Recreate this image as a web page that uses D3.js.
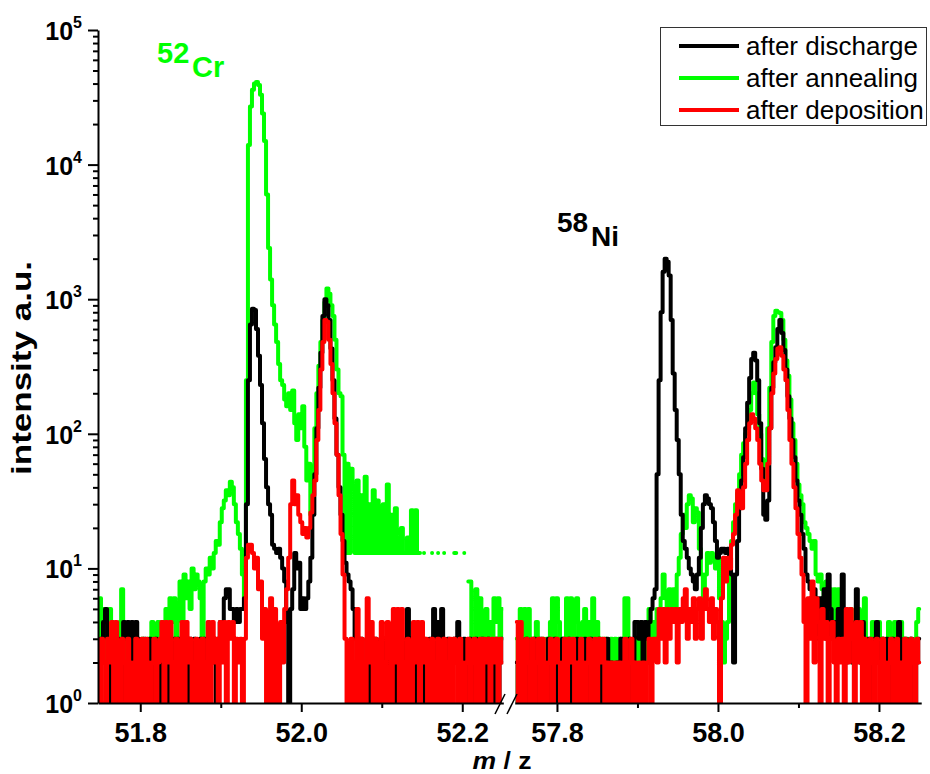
<!DOCTYPE html>
<html>
<head>
<meta charset="utf-8">
<script src="https://cdn.jsdelivr.net/npm/d3@7"></script>
<style>
  body { margin: 0; background: white; }
  text { font-family: "Liberation Sans", Arial, sans-serif; }
</style>
</head>
<body>
<div id="container"></div>
<script>
// colours of the three spectra
let black = "#000000";
let green = "#00ff00";
let red = "#ff0000";

// spectra are sampled every 0.0025 m/z, from 51.75 (left part) and 57.75 (right part)
let step = 0.0025;
let startLeft = 51.75;
let startRight = 57.75;

// left part, 51.75 .. 52.25
let greenLeft = [
  6,2,5,3,1,5,4,2,3,1,
  4,7,3,2,3,1,3,2,3,2,
  1,3,2,1,3,2,4,1,3,4,
  2,4,3,5,1,6,4,6,3,5,
  8,4,9,6,8,5,10,7,9,8,
  6,1,8,10,9,12,10,13,16,15,
  22,28,32,38,35,44,40,30,22,18,
  14,9,6,250,14000,27000,36000,40000,41000,39000,
  33000,24000,15000,6000,2400,1400,900,650,480,330,
  250,230,180,160,200,150,210,120,90,140,
  110,160,80,45,60,25,50,110,200,320,
  480,700,950,1200,1100,900,750,500,300,200,
  190,70,13,60,13,55,40,13,45,13,
  35,13,48,13,30,13,38,13,32,13,
  13,30,13,42,13,25,13,28,13,13,
  20,13,13,17,13,27,13,27,13,13,
  null,13,null,null,null,13,null,null,13,null,
  null,13,null,null,null,null,13,13,null,null,
  null,13,null,8,8,3,1,7,3,6,
  2,3,5,3,4,2,6,4,6,3,
  5
];
let blackLeft = [
  3,2,4,5,3,1,3,2,1,3,
  2,1,4,3,4,1,4,2,4,3,
  1,2,3,1,2,3,1,2,3,2,
  1,3,2,1,3,2,1,3,2,3,
  1,2,3,2,1,3,2,3,1,1,
  3,2,3,1,2,3,2,3,1,3,
  4,4,6,7,7,5,5,4,5,4,
  5,5,6,30,250,650,850,830,600,380,
  230,120,65,40,30,25,15,14,13,14,
  12,10,8,4,1,5,7,13,10,11,
  5,6,5,6,8,12,25,50,110,220,
  400,750,1000,900,700,430,250,130,70,40,
  25,16,11,9,8,7,5,3,2,1,
  3,2,1,2,3,1,2,3,1,2,
  3,2,1,3,2,1,2,3,1,2,
  3,1,2,5,2,3,1,2,3,2,
  1,3,2,1,3,2,5,1,4,1,
  5,1,2,3,1,2,3,2,4,1,
  2,3,1,2,3,1,2,3,2,1,
  3,2,1,3,2,1,2,3,1,2,
  3
];
let redLeft = [
  1,3,2,1,3,2,4,1,4,2,
  1,3,2,1,3,2,1,2,3,1,
  2,3,1,3,2,1,2,3,1,2,
  3,4,1,4,2,4,1,2,3,1,
  2,4,1,4,2,3,1,2,3,1,
  2,3,1,2,4,1,4,2,3,1,
  4,2,4,1,4,3,4,1,3,2,
  3,1,3,12,15,15,13,10,12,7,
  8,3,5,1,4,6,1,5,3,1,
  4,2,5,7,12,30,45,30,35,25,
  22,18,20,17,20,26,35,45,90,150,
  300,480,700,680,500,330,200,120,70,35,
  18,9,3,1,2,3,1,2,5,1,
  3,2,1,6,2,4,1,3,2,1,
  4,2,1,4,3,1,5,2,5,1,
  5,2,1,3,2,1,4,2,4,1,
  4,2,3,1,2,3,1,2,3,1,
  2,3,1,2,3,1,3,2,1,3,
  2,1,2,3,1,2,3,1,2,3,
  1,3,2,3,1,3,2,3,1,3,
  2
];

// right part, 57.75 .. 58.25
let greenRight = [
  3,1,5,2,5,3,5,1,3,2,
  4,2,1,3,2,3,1,4,6,3,
  6,4,2,3,1,6,3,6,2,4,
  6,3,2,4,5,2,4,3,6,3,
  4,1,3,2,3,1,2,3,2,3,
  1,3,2,3,6,6,2,1,2,3,
  1,3,2,3,3,2,5,3,4,3,
  5,4,6,9,6,5,7,4,7,5,
  9,12,18,25,20,30,35,33,22,28,
  26,14,9,5,9,13,11,13,12,10,
  12,6,4,2,3,4,10,16,22,30,
  36,50,70,85,100,110,150,200,240,200,
  140,100,65,45,55,110,220,480,750,820,
  800,790,700,500,350,270,180,120,90,60,
  42,35,30,22,20,18,16,14,16,9,
  8,9,7,5,8,4,7,3,7,4,
  7,3,5,2,4,3,5,2,4,3,
  5,2,4,6,3,2,3,4,2,3,
  4,2,3,2,3,4,3,2,4,3,
  2,4,3,2,3,1,3,2,3,4,
  5
];
let blackRight = [
  2,1,3,2,1,3,2,1,2,3,
  1,2,3,1,2,1,3,2,1,3,
  2,1,2,3,1,2,3,1,2,1,
  3,2,1,2,3,1,2,3,1,2,
  1,3,2,1,2,3,1,2,1,1,
  2,1,3,2,1,2,3,1,2,4,
  4,3,4,2,4,3,4,5,6,7,
  50,250,800,1600,2000,1900,1500,700,280,150,
  90,50,25,16,14,12,10,9,8,7,
  9,12,20,30,35,33,30,28,22,16,
  12,13,14,14,13,14,12,9,2,9,
  16,28,45,67,110,170,260,360,400,350,
  250,120,55,25,23,32,110,220,340,440,
  600,700,560,420,300,190,130,90,67,45,
  32,25,18,14,9,8,7,7,7,6,
  3,6,4,7,3,9,5,3,4,2,
  5,3,9,4,2,3,4,2,3,7,
  3,2,4,3,2,3,1,2,3,4,
  2,1,3,2,3,1,2,3,2,3,
  4,2,1,3,2,1,3,2,1,2,
  3
];
let redRight = [
  4,1,4,2,1,3,2,1,3,1,
  2,3,1,3,2,1,2,3,1,2,
  3,2,1,2,3,1,3,2,3,1,
  2,1,3,2,1,2,3,1,2,3,
  1,3,2,3,1,2,1,2,1,2,
  1,2,1,2,3,1,2,3,1,2,
  1,2,1,2,1,2,3,1,3,3,
  2,5,3,5,2,5,3,5,4,5,
  2,5,4,6,7,3,5,4,6,3,
  5,6,3,5,7,5,4,6,3,5,
  4,1,6,12,8,12,10,15,18,25,
  38,30,28,40,60,90,120,140,130,110,
  90,60,45,38,38,60,110,200,280,360,
  430,440,380,300,250,150,90,60,40,28,
  18,12,9,4,1,6,3,8,2,6,
  4,1,5,3,4,1,3,4,2,1,
  3,2,3,1,5,2,5,3,1,4,
  2,4,1,3,2,1,3,2,1,3,
  2,1,3,2,1,2,3,1,2,3,
  1,2,1,3,2,1,3,2,1,3,
  2
];

let legendNames = ["after discharge", "after annealing", "after deposition"];
let legendColors = [black, green, red];

let xTicksLeft = [51.8, 52.0, 52.2];
let xMinorLeft = [51.9, 52.1];
let xTicksRight = [57.8, 58.0, 58.2];
let xMinorRight = [57.9, 58.1];
let yDecades = [1, 10, 100, 1000, 10000, 100000];
let yExponents = [0, 1, 2, 3, 4, 5];

let viz = d3.select("#container")
  .append("svg")
    .attr("width", 930)
    .attr("height", 774)
    .style("background-color", "white")
;

let pxPerUnit = 805;
let plotTop = 30;
let plotBottom = 703;

let xLeft = d3.scaleLinear()
  .domain([51.7475, 52.251])
  .range([98, 98 + (52.251 - 51.7475) * pxPerUnit]);
let xRight = d3.scaleLinear()
  .domain([57.7475, 58.2525])
  .range([514.7, 514.7 + (58.2525 - 57.7475) * pxPerUnit]);
let y = d3.scaleLog()
  .domain([1, 100000])
  .range([plotBottom, plotTop]);

// clip each half so lines end at the axis break
let defs = viz.append("defs");
defs.append("clipPath").attr("id", "clipLeft")
  .append("rect")
  .attr("x", 96).attr("y", 0)
  .attr("width", xLeft.range()[1] - 96).attr("height", plotBottom);
defs.append("clipPath").attr("id", "clipRight")
  .append("rect")
  .attr("x", xRight.range()[0]).attr("y", 0)
  .attr("width", 930 - xRight.range()[0]).attr("height", plotBottom);

function points(values, start) {
  return values.map((v, i) => ({ mz: start + i * step, v: v }));
}

function drawSeries(values, start, xScale, clipId, color) {
  let line = d3.line()
    .defined(d => d.v != null)
    .curve(d3.curveStep)
    .x(d => xScale(d.mz))
    .y(d => y(d.v));
  viz.append("path")
    .datum(points(values, start))
    .attr("clip-path", "url(#" + clipId + ")")
    .attr("d", line)
    .attr("fill", "none")
    .attr("stroke", color)
    .attr("stroke-width", 4)
    .attr("stroke-linejoin", "round")
    .attr("stroke-linecap", "round");
}

// green first, black over it, red on top
drawSeries(greenLeft, startLeft, xLeft, "clipLeft", green);
drawSeries(greenRight, startRight, xRight, "clipRight", green);
drawSeries(blackLeft, startLeft, xLeft, "clipLeft", black);
drawSeries(blackRight, startRight, xRight, "clipRight", black);
drawSeries(redLeft, startLeft, xLeft, "clipLeft", red);
drawSeries(redRight, startRight, xRight, "clipRight", red);

// y axis
let yMinor = [];
yDecades.slice(0, 5).forEach(d => {
  for (let k = 2; k <= 9; k++) yMinor.push(d * k);
});

viz.append("g")
  .attr("transform", "translate(98,0)")
  .call(d3.axisLeft(y).tickValues(yDecades).tickSize(10).tickSizeOuter(0).tickFormat(""));
viz.append("g")
  .attr("transform", "translate(98,0)")
  .call(d3.axisLeft(y).tickValues(yMinor).tickSize(5).tickSizeOuter(0).tickFormat(""))
  .select(".domain").remove();

yDecades.forEach((d, i) => {
  let t = viz.append("text")
    .attr("x", 82)
    .attr("y", y(d) + 10)
    .attr("text-anchor", "end")
    .attr("font-weight", "bold")
    .attr("font-size", 25);
  t.append("tspan").text("10");
  t.append("tspan").attr("dy", -12).attr("font-size", 16).text(yExponents[i]);
});

// x axes, one for each half
function drawXAxis(scale, major, minor) {
  viz.append("g")
    .attr("transform", "translate(0," + plotBottom + ")")
    .call(d3.axisBottom(scale).tickValues(major).tickSize(9).tickSizeOuter(0)
      .tickPadding(11).tickFormat(d3.format(".1f")))
    .selectAll("text")
      .attr("font-size", 27)
      .attr("font-weight", "bold")
      .attr("fill", "black");
  viz.append("g")
    .attr("transform", "translate(0," + plotBottom + ")")
    .call(d3.axisBottom(scale).tickValues(minor).tickSize(5).tickSizeOuter(0).tickFormat(""))
    .select(".domain").remove();
}
drawXAxis(xLeft, xTicksLeft, xMinorLeft);
drawXAxis(xRight, xTicksRight, xMinorRight);

viz.selectAll(".domain, .tick line")
  .attr("stroke", "black")
  .attr("stroke-width", 2);

// axis break marks
[[495, 714, 505, 694], [507, 714, 517, 694]].forEach(s => {
  viz.append("line")
    .attr("x1", s[0]).attr("y1", s[1])
    .attr("x2", s[2]).attr("y2", s[3])
    .attr("stroke", "black")
    .attr("stroke-width", 1.5);
});

// axis titles
viz.append("text")
  .attr("transform", "translate(31,368) rotate(-90)")
  .attr("text-anchor", "middle")
  .attr("font-weight", "bold")
  .attr("font-size", 27)
  .attr("textLength", 214)
  .attr("lengthAdjust", "spacingAndGlyphs")
  .text("intensity a.u.");

let xTitle = viz.append("text")
  .attr("x", 502)
  .attr("y", 769)
  .attr("text-anchor", "middle")
  .attr("font-weight", "bold")
  .attr("font-size", 24)
  .attr("textLength", 59)
  .attr("lengthAdjust", "spacingAndGlyphs");
xTitle.append("tspan").attr("font-style", "italic").text("m");
xTitle.append("tspan").text(" / z");

// peak labels
viz.append("text").text("52")
  .attr("x", 157).attr("y", 63)
  .attr("font-size", 29).attr("font-weight", "bold").attr("fill", green);
viz.append("text").text("Cr")
  .attr("x", 192).attr("y", 77)
  .attr("font-size", 29).attr("font-weight", "bold").attr("fill", green);
viz.append("text").text("58")
  .attr("x", 557).attr("y", 232)
  .attr("font-size", 28).attr("font-weight", "bold").attr("fill", black);
viz.append("text").text("Ni")
  .attr("x", 591).attr("y", 246)
  .attr("font-size", 28).attr("font-weight", "bold").attr("fill", black);

// legend
viz.append("rect")
  .attr("x", 660.5)
  .attr("y", 27.5)
  .attr("width", 266)
  .attr("height", 98)
  .attr("fill", "white")
  .attr("stroke", "#333")
  .attr("stroke-width", 1);

legendNames.forEach((name, i) => {
  let ly = 46 + i * 32;
  viz.append("line")
    .attr("x1", 679).attr("x2", 739)
    .attr("y1", ly).attr("y2", ly)
    .attr("stroke", legendColors[i])
    .attr("stroke-width", 4);
  viz.append("text")
    .attr("x", 746)
    .attr("y", ly + 9)
    .attr("font-size", 26)
    .text(name);
});
</script>
</body>
</html>
